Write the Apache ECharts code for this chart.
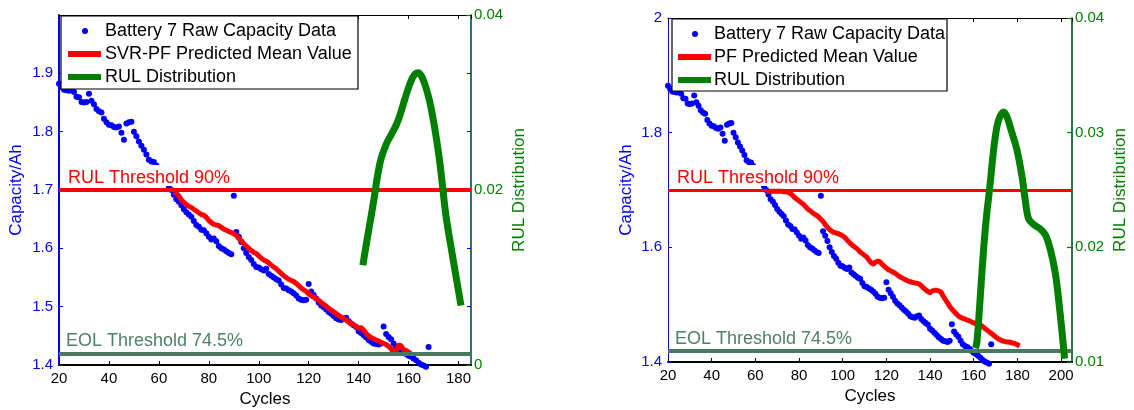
<!DOCTYPE html>
<html>
<head>
<meta charset="utf-8">
<script src="https://cdn.jsdelivr.net/npm/echarts@6/dist/echarts.min.js"></script>
<style>
  html, body { margin: 0; padding: 0; background: #fff; }
  #chart { width: 1134px; height: 410px; }
</style>
</head>
<body>
<div id="chart"></div>
<script>
// Battery 7 measured capacity (Ah), one value per cycle starting at cycle 20
const RAW_FIRST_CYCLE = 20;
const rawCapacity = [
  1.882, 1.876, 1.872, 1.871, 1.870, 1.871, 1.868, 1.860, 1.859, 1.851,
  1.850, 1.851, 1.865, 1.853, 1.847, 1.839, 1.835, 1.833, 1.822, 1.816,
  1.812, 1.811, 1.808, 1.807, 1.809, 1.798, 1.786, 1.814, 1.816, 1.817,
  1.800, 1.792, 1.783, 1.776, 1.769, 1.761, 1.752, 1.749, 1.748, 1.742,
  1.735, 1.727, 1.720, 1.713, 1.706, 1.700, 1.692, 1.684, 1.680, 1.674,
  1.667, 1.662, 1.658, 1.654, 1.647, 1.640, 1.637, 1.632, 1.631, 1.626,
  1.620, 1.615, 1.617, 1.612, 1.604, 1.600, 1.598, 1.595, 1.592, 1.590,
  1.690, 1.628, 1.620, 1.611, 1.600, 1.592, 1.585, 1.580, 1.573, 1.568,
  1.567, 1.564, 1.562, 1.565, 1.556, 1.553, 1.550, 1.547, 1.545, 1.538,
  1.532, 1.531, 1.528, 1.526, 1.523, 1.519, 1.514, 1.512, 1.511, 1.512,
  1.539, 1.526, 1.520, 1.514, 1.507, 1.502, 1.499, 1.495, 1.491, 1.488,
  1.484, 1.480, 1.478, 1.477, 1.480, 1.481, 1.475, 1.471, 1.468, 1.465,
  1.458, 1.455, 1.451, 1.447, 1.443, 1.440, 1.437, 1.436, 1.435, 1.437,
  1.466, 1.453, 1.448, 1.444, 1.437, 1.431, 1.428, 1.426, 1.423, 1.419,
  1.416, 1.414, 1.411, 1.408, 1.404, 1.401, 1.399, 1.397, 1.431
];

// SVR-PF predicted mean capacity, one value per cycle starting at cycle 66
const SVR_FIRST_CYCLE = 66;
const svrPfMean = [
  1.696, 1.694, 1.690, 1.683, 1.679, 1.675, 1.672, 1.670, 1.667, 1.664,
  1.661, 1.658, 1.657, 1.653, 1.648, 1.644, 1.641, 1.640, 1.639, 1.636,
  1.633, 1.631, 1.629, 1.627, 1.625, 1.622, 1.617, 1.613, 1.608, 1.604,
  1.600, 1.596, 1.593, 1.591, 1.587, 1.583, 1.580, 1.578, 1.575, 1.571,
  1.568, 1.565, 1.561, 1.557, 1.553, 1.550, 1.547, 1.545, 1.543, 1.540,
  1.536, 1.532, 1.529, 1.526, 1.522, 1.519, 1.516, 1.514, 1.511, 1.507,
  1.504, 1.501, 1.497, 1.494, 1.491, 1.488, 1.485, 1.482, 1.480, 1.477,
  1.474, 1.471, 1.469, 1.466, 1.463, 1.464, 1.460, 1.454, 1.450, 1.447,
  1.445, 1.443, 1.441, 1.439, 1.437, 1.435, 1.432, 1.428, 1.421, 1.425,
  1.434, 1.433, 1.426, 1.425, 1.422, 1.420
];

// PF predicted mean capacity, one value per cycle starting at cycle 65
const PF_FIRST_CYCLE = 65;
const pfMean = [
  1.697, 1.698, 1.698, 1.698, 1.698, 1.698, 1.698, 1.698, 1.697, 1.697,
  1.696, 1.694, 1.691, 1.687, 1.684, 1.681, 1.678, 1.675, 1.671, 1.667,
  1.664, 1.661, 1.658, 1.656, 1.653, 1.649, 1.645, 1.640, 1.635, 1.631,
  1.628, 1.626, 1.625, 1.624, 1.622, 1.620, 1.617, 1.613, 1.609, 1.605,
  1.602, 1.599, 1.596, 1.592, 1.589, 1.586, 1.583, 1.578, 1.573, 1.571,
  1.574, 1.576, 1.575, 1.571, 1.567, 1.564, 1.561, 1.559, 1.557, 1.555,
  1.552, 1.549, 1.547, 1.545, 1.543, 1.541, 1.540, 1.539, 1.538, 1.537,
  1.536, 1.533, 1.529, 1.526, 1.523, 1.521, 1.524, 1.525, 1.525, 1.524,
  1.522, 1.515, 1.509, 1.503, 1.497, 1.492, 1.488, 1.484, 1.480, 1.478,
  1.476, 1.475, 1.473, 1.472, 1.470, 1.468, 1.467, 1.466, 1.465, 1.462,
  1.459, 1.456, 1.453, 1.450, 1.447, 1.444, 1.441, 1.439, 1.437, 1.436,
  1.435, 1.435, 1.434, 1.433, 1.432, 1.430, 1.428
];

// RUL probability density, SVR-PF model
const svrRulCycles = [141.7, 143, 144.4, 146, 147.5, 149, 151, 153, 155, 156.8, 158.4, 160, 161.5, 162.8, 163.8, 165, 166.4, 168.4, 170.4, 172.4, 173.7, 175, 177.7, 181];
const svrRulDensity = [0.0114, 0.0137, 0.0160, 0.0187, 0.0215, 0.0236, 0.0252, 0.0263, 0.0274, 0.0288, 0.0303, 0.0317, 0.0328, 0.0333, 0.0334, 0.0331, 0.0322, 0.0302, 0.0272, 0.0234, 0.0202, 0.0170, 0.0123, 0.0068];

// RUL probability density, PF model
const pfRulCycles = [160.8, 161.5, 163, 164.5, 166, 166.8, 167.7, 169.1, 170.6, 172, 173.7, 175.2, 176.7, 178.3, 179.8, 182.1, 183.6, 185.1, 187.4, 190.5, 192.8, 195.1, 197.4, 198.9, 200.5, 201.6];
const pfRulDensity = [0.0112, 0.0118, 0.0157, 0.0198, 0.0230, 0.0243, 0.0259, 0.0285, 0.0305, 0.0314, 0.0318, 0.0314, 0.0305, 0.0295, 0.0285, 0.0262, 0.0241, 0.0225, 0.0220, 0.0216, 0.0211, 0.0198, 0.0177, 0.0154, 0.0125, 0.0103];

// Capacity thresholds (Ah)
const RUL_THRESHOLD = 1.6955;   // 90 %
const EOL_THRESHOLD = 1.4240;   // 74.5 %

const legendLabels = ['Battery 7 Raw Capacity Data', 'SVR-PF Predicted Mean Value', 'PF Predicted Mean Value', 'RUL Distribution'];

const FONT = '"Liberation Sans", Arial, Helvetica, sans-serif';
const BLUE = '#0000ff';
const RED = '#ff0000';
const GREEN = '#008000';
const RUL_GREEN = '#007f00';
const EOL_LINE = '#4a7a5e';
const EOL_TEXT = '#4f8066';

const byCycle = (first, values) => values.map((v, i) => [first + i, v]);
const zipPairs = (xs, ys) => xs.map((x, i) => [x, ys[i]]);

function bottomAxis(gridIndex, max) {
  return {
    type: 'value', gridIndex, position: 'bottom', min: 20, max, interval: 20,
    name: 'Cycles', nameLocation: 'middle', nameGap: 25,
    nameTextStyle: { color: '#000', fontSize: 17, fontFamily: FONT },
    axisLine: { show: true, onZero: false, lineStyle: { color: '#000', width: 2 } },
    axisTick: { show: true, inside: true, length: 4, lineStyle: { color: '#000', width: 1 } },
    axisLabel: { color: '#000', fontSize: 15, fontFamily: FONT, margin: 6, showMaxLabel: false },
    splitLine: { show: false }
  };
}
function topAxis(gridIndex, max) {
  return {
    type: 'value', gridIndex, position: 'top', min: 20, max, interval: 20,
    axisLine: { show: true, onZero: false, lineStyle: { color: '#000', width: 1.2 } },
    axisTick: { show: true, inside: true, length: 4, lineStyle: { color: '#000', width: 1 } },
    axisLabel: { show: false }, splitLine: { show: false }
  };
}
function capacityAxis(gridIndex, interval, lineWidth, nameGap) {
  return {
    type: 'value', gridIndex, position: 'left', min: 1.4, max: 2.0, interval,
    name: 'Capacity/Ah', nameLocation: 'middle', nameGap,
    nameTextStyle: { color: BLUE, fontSize: 17, fontFamily: FONT },
    axisLine: { show: true, onZero: false, lineStyle: { color: BLUE, width: lineWidth } },
    axisTick: { show: true, inside: true, length: 4, lineStyle: { color: BLUE, width: 1 } },
    axisLabel: { color: BLUE, fontSize: 15, fontFamily: FONT, margin: 6, showMaxLabel: gridIndex === 1 },
    splitLine: { show: false }
  };
}
function capacityMirror(gridIndex, interval, color) {
  return {
    type: 'value', gridIndex, position: 'right', min: 1.4, max: 2.0, interval,
    axisLine: { show: true, onZero: false, lineStyle: { color, width: 1.5 } },
    axisTick: { show: true, inside: true, length: 4, lineStyle: { color: BLUE, width: 1 } },
    axisLabel: { show: false }, splitLine: { show: false }
  };
}
function rulAxis(gridIndex, min, max, interval, color) {
  return {
    type: 'value', gridIndex, position: 'right', min, max, interval,
    name: 'RUL Distribution', nameLocation: 'middle', nameGap: 40, nameRotate: 90,
    nameTextStyle: { color: GREEN, fontSize: 17, fontFamily: FONT },
    axisLine: { show: true, onZero: false, lineStyle: { color, width: 1.5 } },
    axisTick: { show: true, inside: true, length: 5, lineStyle: { color: GREEN, width: 1.2 } },
    axisLabel: { color: GREEN, fontSize: 15, fontFamily: FONT, margin: 3 },
    splitLine: { show: false }
  };
}

function thresholdSeries(xIdx, yIdx, value, text, lineColor, lineWidth, textColor, z, withBg) {
  return {
    type: 'line', xAxisIndex: xIdx, yAxisIndex: yIdx, data: [], z,
    markLine: {
      silent: true, symbol: 'none', animation: false,
      lineStyle: { color: lineColor, width: lineWidth, type: 'solid' },
      label: {
        show: true, position: 'insideStartTop', formatter: text,
        color: textColor, fontSize: 18, fontFamily: FONT, lineHeight: 16,
        distance: [7, 4],
        backgroundColor: withBg ? '#fff' : 'transparent',
        padding: withBg ? [5, 2, 0, 2] : 0
      },
      emphasis: { disabled: true },
      data: [{ yAxis: value }]
    }
  };
}

function panelSeries(xIdx, yIdx, rulIdx, meanFirst, meanValues, rulX, rulY, rulWidth) {
  return [
    thresholdSeries(xIdx, yIdx, EOL_THRESHOLD, 'EOL Threshold 74.5%', EOL_LINE, 4, EOL_TEXT, 1, false),
    {
      type: 'scatter', xAxisIndex: xIdx, yAxisIndex: yIdx, z: 3, clip: false,
      data: byCycle(RAW_FIRST_CYCLE, rawCapacity),
      symbol: 'circle', symbolSize: 6, itemStyle: { color: BLUE, opacity: 1 }
    },
    {
      type: 'line', xAxisIndex: xIdx, yAxisIndex: yIdx, z: 4,
      data: byCycle(meanFirst, meanValues), symbol: 'none',
      lineStyle: { color: RED, width: 5, join: 'round' }
    },
    thresholdSeries(xIdx, yIdx, RUL_THRESHOLD, 'RUL Threshold 90%', RED, rulWidth, RED, 5, true),
    {
      type: 'line', xAxisIndex: xIdx, yAxisIndex: rulIdx, z: 6,
      data: zipPairs(rulX, rulY), symbol: 'none', smooth: 0.35,
      lineStyle: { color: RUL_GREEN, width: 7, join: 'round' }
    }
  ];
}

function legendBox(x, y, w, h, swatchX, textX, meanLabel) {
  const rows = [y + 15, y + 38, y + 61];
  const txt = (t, yy) => ({
    type: 'text', x: textX, y: yy, z: 101,
    style: { text: t, fill: '#000', font: '18px ' + FONT, textVerticalAlign: 'middle', verticalAlign: 'middle' }
  });
  return [
    { type: 'rect', z: 100, shape: { x, y, width: w, height: h }, style: { fill: '#fff', stroke: '#000', lineWidth: 1.2 } },
    { type: 'circle', z: 101, shape: { cx: swatchX + 17, cy: rows[0], r: 3 }, style: { fill: BLUE } },
    { type: 'line', z: 101, shape: { x1: swatchX, y1: rows[1], x2: swatchX + 33, y2: rows[1] }, style: { stroke: RED, lineWidth: 6 } },
    { type: 'line', z: 101, shape: { x1: swatchX, y1: rows[2], x2: swatchX + 33, y2: rows[2] }, style: { stroke: RUL_GREEN, lineWidth: 6 } },
    txt(legendLabels[0], rows[0]),
    txt(meanLabel, rows[1]),
    txt(legendLabels[3], rows[2])
  ];
}

const option = {
  animation: false,
  backgroundColor: '#fff',
  textStyle: { fontFamily: FONT },
  grid: [
    { left: 59, right: 663, top: 15, bottom: 45, containLabel: false, outerBoundsMode: 'none' },
    { left: 668, right: 62, top: 18, bottom: 48, containLabel: false, outerBoundsMode: 'none' }
  ],
  xAxis: [bottomAxis(0, 185), topAxis(0, 185), bottomAxis(1, 205), topAxis(1, 205)],
  yAxis: [
    capacityAxis(0, 0.1, 2, 34),
    capacityMirror(0, 0.1, '#1a6a6a'),
    rulAxis(0, 0, 0.04, 0.02, '#1a6a6a'),
    capacityAxis(1, 0.2, 1, 33),
    capacityMirror(1, 0.2, '#1f6b3f'),
    rulAxis(1, 0.01, 0.04, 0.01, '#1f6b3f')
  ],
  series: [
    ...panelSeries(0, 0, 2, SVR_FIRST_CYCLE, svrPfMean, svrRulCycles, svrRulDensity, 4),
    ...panelSeries(2, 3, 5, PF_FIRST_CYCLE, pfMean, pfRulCycles, pfRulDensity, 3)
  ],
  graphic: [
    ...legendBox(61, 16, 297, 73, 68, 105, legendLabels[1]),
    ...legendBox(672, 19, 275, 72, 678, 714, legendLabels[2])
  ]
};

const chart = echarts.init(document.getElementById('chart'), null, { renderer: 'canvas' });
chart.setOption(option);
</script>
</body>
</html>
